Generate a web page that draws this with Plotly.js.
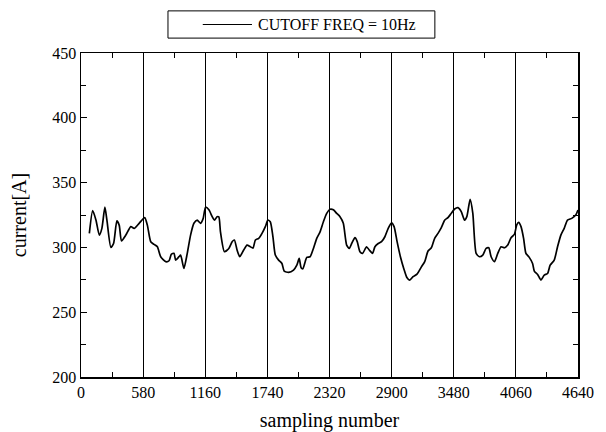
<!DOCTYPE html>
<html>
<head>
<meta charset="utf-8">
<script src="https://cdn.plot.ly/plotly-3.0.1.min.js"></script>
<style>html,body{margin:0;padding:0;background:#fff;}#chart{width:606px;height:432px;}</style>
</head>
<body>
<div id="chart"></div>
<script>
const sampleNumber = [78,109,140,171,195,223,242,279,304,335,357,378,419,465,496,543,595,620,651,682,713,744,791,822,843,868,884,915,930,961,992,1023,1054,1085,1116,1141,1163,1194,1225,1246,1271,1287,1302,1339,1380,1411,1432,1457,1482,1519,1550,1581,1606,1628,1659,1690,1721,1745,1767,1792,1814,1845,1876,1897,1938,1984,2015,2037,2055,2071,2093,2108,2139,2170,2201,2232,2263,2294,2325,2356,2387,2418,2449,2480,2505,2527,2558,2579,2604,2629,2666,2691,2722,2744,2775,2806,2837,2868,2899,2923,2951,2982,3013,3044,3069,3100,3137,3178,3209,3240,3271,3302,3333,3364,3395,3426,3457,3488,3519,3550,3581,3602,3633,3658,3689,3720,3751,3782,3807,3829,3860,3891,3922,3953,3984,4015,4046,4068,4086,4108,4132,4154,4185,4216,4232,4263,4294,4325,4356,4380,4418,4449,4480,4511,4542,4582,4619,4640];
const currentA = [310.8,328.4,321,309.5,314.7,331,321,300,303,320.4,317,305,309.5,316,314.7,318.6,323,317,304.4,302.3,300.5,292.8,289,289.7,294.6,295.4,290.2,292.8,294,283.8,295.4,309.5,318.6,321,318.6,322.4,331,329,323.7,321,323.7,323.5,312,296.7,299.2,304.4,305.7,298,292.8,298,301.8,300.5,299.5,305.7,307,310.8,316,321,319.8,308.2,294.1,290.2,287.6,281.7,280.7,282.5,286.3,291.5,284.3,283.5,289,292.3,292.8,299.2,307,312,319.8,326.3,329.4,329,326.3,323.7,318.6,301.8,299.2,303,307.5,304.5,296.7,295.4,300.5,298,295.4,300.5,303,304.4,308.2,314.7,319,316,304.4,292.8,283.8,276.5,274.8,277.4,279.4,285,289,297.2,299.7,307,310.8,315.2,321,323,326.3,329.6,330.7,327.6,321,323.7,337.1,326.3,295.4,292.8,294.1,299.2,299.7,292.8,289,295.4,300.5,299.7,301.8,307.5,310,317.3,319.3,316,307,295.4,292.3,287.6,281.7,279.1,274.8,278.6,279.9,286.3,290.2,300.5,309.5,314.7,321,322.4,325,328.8];
const seriesName = "CUTOFF FREQ = 10Hz";
const xTickVals = [0,580,1160,1740,2320,2900,3480,4060,4640];
const yTickVals = [200,250,300,350,400,450];

const font = "Liberation Serif";
const trace = {
  x: sampleNumber, y: currentA, type: "scatter", mode: "lines",
  name: seriesName, showlegend: false,
  line: {color: "#000", width: 1.7, shape: "spline", smoothing: 0.6}
};
const layout = {
  width: 606, height: 432,
  margin: {l: 81, r: 28, t: 53, b: 55},
  paper_bgcolor: "#fff", plot_bgcolor: "#fff",
  font: {family: font, color: "#000", size: 16},
  showlegend: false,
  shapes: [
    {type: "rect", xref: "paper", yref: "paper", x0: 0.175, x1: 0.712, y0: 1.046, y1: 1.130,
     line: {color: "#000", width: 1}, fillcolor: "#fff"},
    {type: "line", xref: "paper", yref: "paper", x0: 0.245, x1: 0.344, y0: 1.088, y1: 1.088,
     line: {color: "#000", width: 1.2}}
  ],
  annotations: [
    {xref: "paper", yref: "paper", x: 0.352, y: 1.088, xanchor: "left", yanchor: "middle",
     text: seriesName, showarrow: false, font: {family: font, size: 16, color: "#000"}}
  ],
  xaxis: {
    range: [0, 4640], tickvals: xTickVals, ticktext: xTickVals.map(String),
    showgrid: true, gridcolor: "#000", gridwidth: 1,
    showline: true, linecolor: "#000", linewidth: 1.5, mirror: "ticks",
    ticks: "inside", ticklen: 5, tickcolor: "#000",
    minor: {dtick: 290, tick0: 0, ticks: "inside", ticklen: 5, tickcolor: "#000", showgrid: false},
    zeroline: false,
    tickfont: {family: font, size: 16},
    title: {text: "sampling number", font: {family: font, size: 20}, standoff: 14}
  },
  yaxis: {
    range: [200, 450], tickvals: yTickVals, ticktext: yTickVals.map(String),
    showgrid: false,
    showline: true, linecolor: "#000", linewidth: 1.5, mirror: "ticks",
    ticks: "inside", ticklen: 6, tickcolor: "#000",
    minor: {dtick: 25, tick0: 200, ticks: "inside", ticklen: 5, tickcolor: "#000", showgrid: false},
    zeroline: false,
    tickfont: {family: font, size: 16},
    title: {text: "current[A]", font: {family: font, size: 20}, standoff: 20}
  }
};
Plotly.newPlot("chart", [trace], layout, {staticPlot: true, displayModeBar: false});
</script>
</body>
</html>
